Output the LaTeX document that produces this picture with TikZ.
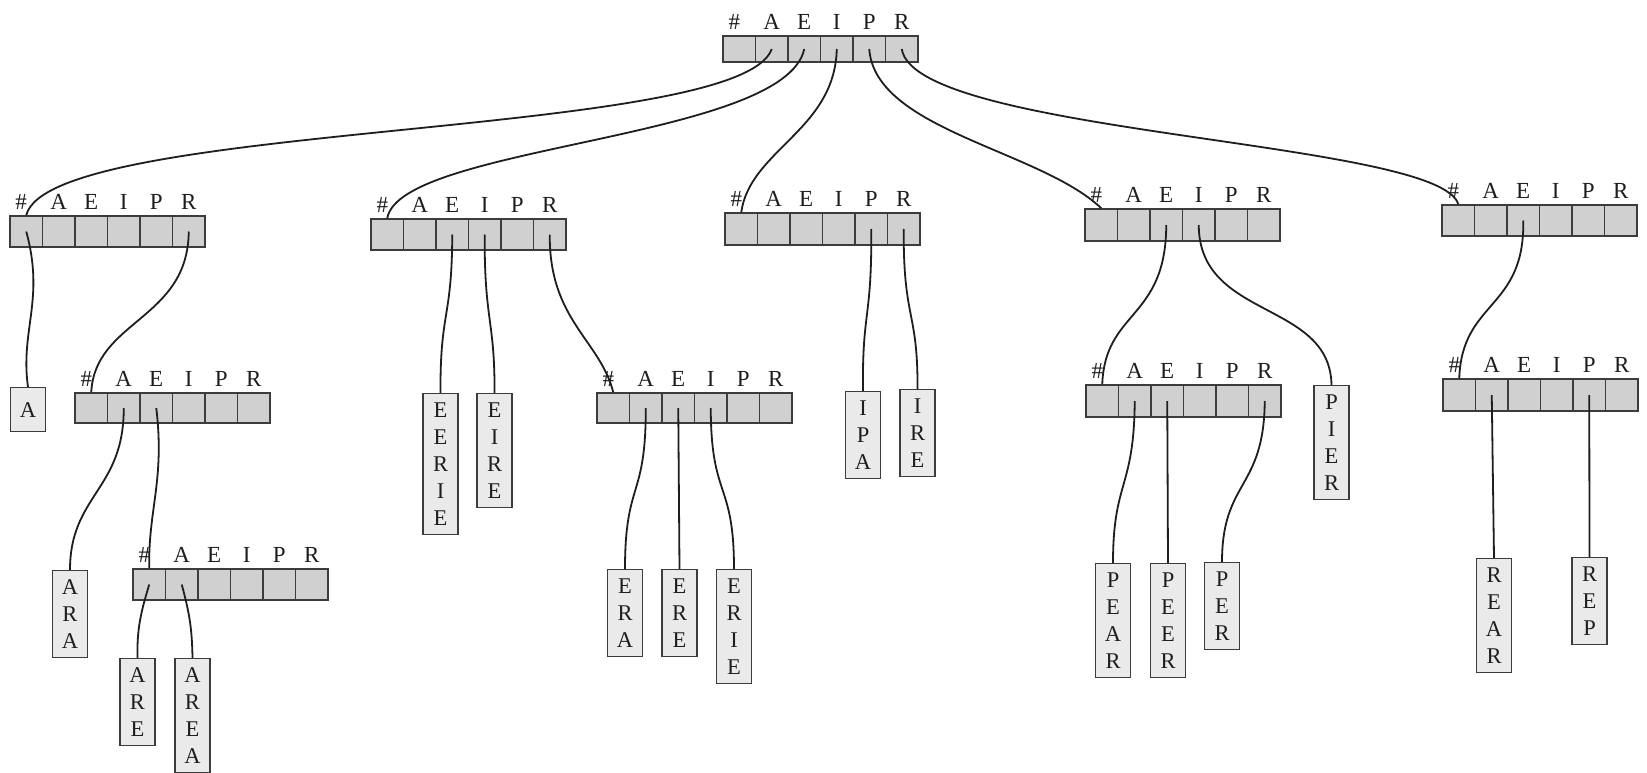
\documentclass[tikz,border=0pt]{standalone}
\usepackage{fontspec}
\setmainfont{Liberation Serif}
\usetikzlibrary{calc}
\definecolor{cellfill}{RGB}{208,208,208}
\definecolor{leaffill}{RGB}{234,234,234}
\definecolor{edge}{RGB}{60,60,60}
\definecolor{ink}{RGB}{30,30,30}
\tikzset{
  cell/.style={draw=edge,fill=cellfill,line width=1.5pt,minimum width=32.5pt,inner sep=0pt},
  lab/.style={text=ink,font=\fontsize{23}{26}\selectfont,inner sep=0pt},
  leaf/.style={draw=edge,fill=leaffill,line width=1.3pt,anchor=north,text=ink,
    font=\fontsize{22.5}{27}\selectfont,align=center,minimum width=35pt,inner xsep=2pt,inner ysep=9pt},
  conn/.style={draw=ink,line width=1.8pt}
}
\newcommand\trienode[4]{%
  \foreach \i/\l/\dx in {0/\#/-5,1/A/0,2/E/0,3/I/0,4/P/0,5/R/0}{%
    \node[cell,minimum height=#4pt] (#1-\i) at ({#2+16.25+32.5*\i},{#3+#4/2}) {};
    \node[lab] (#1-l\i) at ({#2+16.25+32.5*\i+\dx},{#3-14}) {\l};
  }}
\newcommand\sconn[4]{\draw[conn] (#1) .. controls #3 and #4 .. (#2);}
\begin{document}
\begin{tikzpicture}[x=1pt,y=-1pt]
\fill[white] (0,0) rectangle (1647,773);
\useasboundingbox (0,0) rectangle (1647,773);

% trie nodes
\trienode{t0}{723}{36}{26}
\trienode{tA}{10}{216}{31}
\trienode{tAR}{75}{393}{30}
\trienode{tARE}{133}{569}{31}
\trienode{tE}{371}{219}{31}
\trienode{tER}{597}{393}{30}
\trienode{tI}{725}{213}{32}
\trienode{tP}{1085}{209}{32}
\trienode{tPE}{1086}{385}{32}
\trienode{tR}{1442}{205}{31}
\trienode{tRE}{1443}{379}{32}

% leaves
\node[leaf,minimum height=44pt] (lA) at (28,387) {A};
\node[leaf] (lARA) at (70,570) {A\\R\\A};
\node[leaf] (lARE) at (137.5,658) {A\\R\\E};
\node[leaf] (lAREA) at (192.5,658) {A\\R\\E\\A};
\node[leaf] (lEERIE) at (440.5,393) {E\\E\\R\\I\\E};
\node[leaf] (lEIRE) at (494.5,393) {E\\I\\R\\E};
\node[leaf] (lERA) at (625,569) {E\\R\\A};
\node[leaf] (lERE) at (679.5,569) {E\\R\\E};
\node[leaf] (lERIE) at (734,569) {E\\R\\I\\E};
\node[leaf] (lIPA) at (863,391) {I\\P\\A};
\node[leaf] (lIRE) at (917.5,389) {I\\R\\E};
\node[leaf] (lPIER) at (1331.5,385) {P\\I\\E\\R};
\node[leaf] (lPEAR) at (1113,563) {P\\E\\A\\R};
\node[leaf] (lPEER) at (1168,563) {P\\E\\E\\R};
\node[leaf] (lPER) at (1222,562) {P\\E\\R};
\node[leaf] (lREAR) at (1494,558) {R\\E\\A\\R};
\node[leaf] (lREP) at (1589.5,557) {R\\E\\P};

% connectors from root
\sconn{t0-1.center}{tA-0.north}{(740,140)}{(50,120)}
\sconn{t0-2.center}{tE-0.north}{(785,140)}{(400,145)}
\sconn{t0-3.center}{tI-0.north}{(835,130)}{(750,150)}
\sconn{t0-4.center}{tP-0.north}{(875,130)}{(1040,150)}
\sconn{t0-5.center}{tR-0.north}{(915,135)}{(1440,140)}

% A subtree
\sconn{tA-0.center}{lA.north}{(45,300)}{(20,330)}
\sconn{tA-5.center}{tAR-0.north}{(188,320)}{(95,320)}
\sconn{tAR-1.center}{lARA.north}{(124,490)}{(70,495)}
\sconn{tAR-2.center}{tARE-0.north}{(165,480)}{(148,510)}
\sconn{tARE-0.center}{lARE.north}{(140,615)}{(137,630)}
\sconn{tARE-1.center}{lAREA.north}{(190,615)}{(192,630)}

% E subtree
\sconn{tE-2.center}{lEERIE.north}{(452,320)}{(440,310)}
\sconn{tE-3.center}{lEIRE.north}{(484,320)}{(495,320)}
\sconn{tE-5.center}{tER-0.north}{(549,320)}{(600,340)}
\sconn{tER-1.center}{lERA.north}{(646,500)}{(625,480)}
\draw[conn] (tER-2.center) -- (lERE.north);
\sconn{tER-3.center}{lERIE.north}{(711,500)}{(734,480)}

% I subtree
\sconn{tI-4.center}{lIPA.north}{(872,320)}{(862,310)}
\sconn{tI-5.center}{lIRE.north}{(903,320)}{(918,310)}

% P subtree
\sconn{tP-2.center}{tPE-0.north}{(1166,320)}{(1105,310)}
\sconn{tP-3.center}{lPIER.north}{(1199,320)}{(1330,300)}
\sconn{tPE-1.center}{lPEAR.north}{(1134,490)}{(1113,480)}
\draw[conn] (tPE-2.center) -- (lPEER.north);
\sconn{tPE-5.center}{lPER.north}{(1264,490)}{(1222,480)}

% R subtree
\sconn{tR-2.center}{tRE-0.north}{(1525,310)}{(1462,300)}
\draw[conn] (tRE-1.center) -- (lREAR.north);
\draw[conn] (tRE-4.center) -- (lREP.north);
\end{tikzpicture}
\end{document}
